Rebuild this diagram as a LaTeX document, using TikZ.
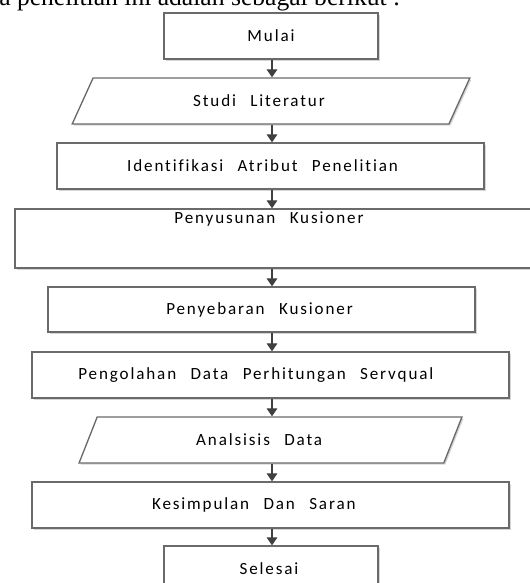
\documentclass[tikz,border=0pt]{standalone}
\usepackage{fontspec}
\setmainfont{Liberation Serif}
\newfontfamily\boxfont[LetterSpace=11,WordSpace=2.5,Ligatures={NoCommon}]{Carlito}
\usetikzlibrary{arrows.meta,shapes.geometric,shadows}
\definecolor{edge}{HTML}{6A6A6A}
\definecolor{flow}{HTML}{404040}
\begin{document}
\begin{tikzpicture}[x=0.75pt,y=-0.75pt,
  boxtext/.style={font=\boxfont\fontsize{12.8}{15}\selectfont, text=black},
  stepbox/.style={draw=edge, line width=1pt, fill=white, inner sep=0pt,
    boxtext, drop shadow={shadow xshift=1.2pt, shadow yshift=-1.2pt, fill=black!16, opacity=1}},
  iobox/.style={stepbox, trapezium, trapezium stretches=true},
  % moves the label of a box to the left by half the given amount
  lean/.style={execute at end node={\hspace{#1}}},
  flowarrow/.style={draw=flow, line width=0.9pt, -{Triangle[width=8pt,length=6pt]}}]
\useasboundingbox (0,0) rectangle (530,583);
\clip (0,0) rectangle (530,583);

% lead-in sentence of the page, cut by the top edge
\node[anchor=base west, inner sep=0pt, font=\fontsize{19.2}{23}\selectfont] (lead) at (-1,5.5)
  {a penelitian ini adalah sebagai berikut :};

% vertical axis shared by all connectors
\coordinate (axis) at (272,0);

% steps of the flow
\node[stepbox, minimum width=160.5pt, minimum height=34.5pt] (mulai) at (271,36) {Mulai};
\node[iobox, lean=18pt, minimum width=298.5pt, minimum height=34.5pt,
  trapezium left angle=52.7, trapezium right angle=127.3] (studi) at (271,101) {Studi Literatur};
\node[stepbox, lean=12pt, minimum width=320.25pt, minimum height=34.5pt] (ident) at (270.5,166) {Identifikasi Atribut Penelitian};
\node[stepbox, minimum width=397.5pt, minimum height=44.25pt,
  label={[boxtext, anchor=center, yshift=-8.25pt, xshift=-8.25pt]north:Penyusunan Kusioner}] (susun) at (280,238.5) {};
\node[stepbox, lean=3pt, minimum width=320.25pt, minimum height=33.75pt] (sebar) at (261.5,309.5) {Penyebaran Kusioner};
\node[stepbox, lean=22pt, minimum width=357.75pt, minimum height=34.5pt] (olah) at (270.5,375) {Pengolahan Data Perhitungan Servqual};
\node[iobox, lean=17pt, minimum width=287.25pt, minimum height=34.5pt,
  trapezium left angle=57, trapezium right angle=123] (analisis) at (270.5,440) {Analsisis Data};
\node[stepbox, lean=25pt, minimum width=357.75pt, minimum height=34.5pt] (simpul) at (270.5,505) {Kesimpulan Dan Saran};
\node[stepbox, lean=3pt, minimum width=160.5pt, minimum height=34.5pt] (selesai) at (271,569) {Selesai};

% connectors
\draw[flowarrow] (mulai.south -| axis) -- (studi.north -| axis);
\draw[flowarrow] (studi.south -| axis) -- (ident.north -| axis);
\draw[flowarrow] (ident.south -| axis) -- (susun.north -| axis);
\draw[flowarrow] (susun.south -| axis) -- (sebar.north -| axis);
\draw[flowarrow] (sebar.south -| axis) -- (olah.north -| axis);
\draw[flowarrow] (olah.south -| axis) -- (analisis.north -| axis);
\draw[flowarrow] (analisis.south -| axis) -- (simpul.north -| axis);
\draw[flowarrow] (simpul.south -| axis) -- (selesai.north -| axis);
\end{tikzpicture}
\end{document}
